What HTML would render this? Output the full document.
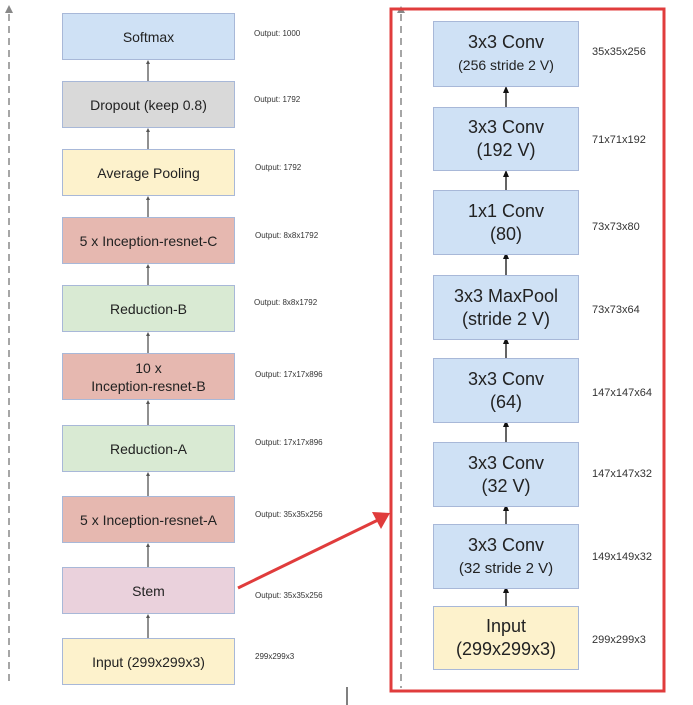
<!DOCTYPE html>
<html><head><style>
body{margin:0;width:693px;height:705px;background:#fff;position:relative;overflow:hidden;font-family:"Liberation Sans",sans-serif}
.b{position:absolute;box-sizing:border-box;border:1px solid #a8b8d8;display:flex;flex-direction:column;align-items:center;justify-content:center;text-align:center;color:#222}
.l{left:62px;width:173px;height:47px;font-size:14px}
.r{left:433px;width:146px;font-size:18px;line-height:23px}
.o{position:absolute;font-size:8px;color:#333}
.s{position:absolute;font-size:11px;color:#333}
</style></head><body>
<svg style="position:absolute;left:0;top:0" width="693" height="705">
<line x1="9" y1="14" x2="9" y2="682" stroke="#888" stroke-width="1.5" stroke-dasharray="7,5"/>
<polygon points="5,13 13,13 9,5" fill="#888"/>
<line x1="401" y1="14" x2="401" y2="688" stroke="#888" stroke-width="1.5" stroke-dasharray="7,5"/>
<polygon points="397,13 405,13 401,6" fill="#888"/>
<rect x="391" y="9" width="273" height="682" fill="none" stroke="#e03c3c" stroke-width="3"/>
<g stroke="#555" stroke-width="1.3">
<line x1="148" y1="62" x2="148" y2="81"/><line x1="148" y1="130" x2="148" y2="149"/><line x1="148" y1="198" x2="148" y2="217"/><line x1="148" y1="266" x2="148" y2="285"/><line x1="148" y1="334" x2="148" y2="353"/><line x1="148" y1="402" x2="148" y2="425"/><line x1="148" y1="474" x2="148" y2="496"/><line x1="148" y1="545" x2="148" y2="567"/><line x1="148" y1="616" x2="148" y2="638"/>
</g>
<g fill="#555"><polygon points="146,64 150,64 148,60"/><polygon points="146,132 150,132 148,128"/><polygon points="146,200 150,200 148,196"/><polygon points="146,268 150,268 148,264"/><polygon points="146,336 150,336 148,332"/><polygon points="146,404 150,404 148,400"/><polygon points="146,476 150,476 148,472"/><polygon points="146,547 150,547 148,543"/><polygon points="146,618 150,618 148,614"/></g>
<g stroke="#111" stroke-width="1.3">
<line x1="506" y1="89" x2="506" y2="108"/><line x1="506" y1="173" x2="506" y2="190"/><line x1="506" y1="255" x2="506" y2="275"/><line x1="506" y1="340" x2="506" y2="358"/><line x1="506" y1="423" x2="506" y2="442"/><line x1="506" y1="507" x2="506" y2="524"/><line x1="506" y1="589" x2="506" y2="606"/>
</g>
<g fill="#111"><polygon points="503,93 509,93 506,86"/><polygon points="503,177 509,177 506,170"/><polygon points="503,259 509,259 506,252"/><polygon points="503,344 509,344 506,337"/><polygon points="503,427 509,427 506,420"/><polygon points="503,511 509,511 506,504"/><polygon points="503,593 509,593 506,586"/></g>
<line x1="238" y1="588" x2="378" y2="520" stroke="#e03c3c" stroke-width="3"/>
<polygon points="390,513 372,512 381,529" fill="#e03c3c"/>
<line x1="347" y1="687" x2="347" y2="705" stroke="#000" stroke-width="1"/>
</svg>
<div class="b l" style="top:13px;background:#cfe1f5">Softmax</div>
<div class="b l" style="top:81px;background:#d9d9d9">Dropout (keep 0.8)</div>
<div class="b l" style="top:149px;background:#fdf2cc">Average Pooling</div>
<div class="b l" style="top:217px;background:#e6b8b0">5 x Inception-resnet-C</div>
<div class="b l" style="top:285px;background:#d9ead3">Reduction-B</div>
<div class="b l" style="top:353px;background:#e6b8b0;line-height:18px"><div>10 x</div><div>Inception-resnet-B</div></div>
<div class="b l" style="top:425px;background:#d9ead3">Reduction-A</div>
<div class="b l" style="top:496px;background:#e6b8b0">5 x Inception-resnet-A</div>
<div class="b l" style="top:567px;background:#ead1dc">Stem</div>
<div class="b l" style="top:638px;background:#fdf2cc">Input (299x299x3)</div>
<div class="o" style="left:254px;top:29px">Output: 1000</div>
<div class="o" style="left:254px;top:95px">Output: 1792</div>
<div class="o" style="left:255px;top:163px">Output: 1792</div>
<div class="o" style="left:255px;top:231px">Output: 8x8x1792</div>
<div class="o" style="left:254px;top:298px">Output: 8x8x1792</div>
<div class="o" style="left:255px;top:370px">Output: 17x17x896</div>
<div class="o" style="left:255px;top:438px">Output: 17x17x896</div>
<div class="o" style="left:255px;top:510px">Output: 35x35x256</div>
<div class="o" style="left:255px;top:591px">Output: 35x35x256</div>
<div class="o" style="left:255px;top:652px">299x299x3</div>
<div class="b r" style="top:21px;height:66px;background:#cfe1f5"><div>3x3 Conv</div><div style="font-size:14px">(256 stride 2 V)</div></div>
<div class="b r" style="top:107px;height:64px;background:#cfe1f5"><div>3x3 Conv</div><div>(192 V)</div></div>
<div class="b r" style="top:190px;height:65px;background:#cfe1f5"><div>1x1 Conv</div><div>(80)</div></div>
<div class="b r" style="top:275px;height:65px;background:#cfe1f5"><div>3x3 MaxPool</div><div>(stride 2 V)</div></div>
<div class="b r" style="top:358px;height:65px;background:#cfe1f5"><div>3x3 Conv</div><div>(64)</div></div>
<div class="b r" style="top:442px;height:65px;background:#cfe1f5"><div>3x3 Conv</div><div>(32 V)</div></div>
<div class="b r" style="top:524px;height:65px;background:#cfe1f5"><div>3x3 Conv</div><div style="font-size:15px">(32 stride 2 V)</div></div>
<div class="b r" style="top:606px;height:64px;background:#fdf2cc"><div>Input</div><div>(299x299x3)</div></div>
<div class="s" style="left:592px;top:46px">35x35x256</div>
<div class="s" style="left:592px;top:134px">71x71x192</div>
<div class="s" style="left:592px;top:221px">73x73x80</div>
<div class="s" style="left:592px;top:304px">73x73x64</div>
<div class="s" style="left:592px;top:387px">147x147x64</div>
<div class="s" style="left:592px;top:468px">147x147x32</div>
<div class="s" style="left:592px;top:551px">149x149x32</div>
<div class="s" style="left:592px;top:634px">299x299x3</div>
</body></html>
